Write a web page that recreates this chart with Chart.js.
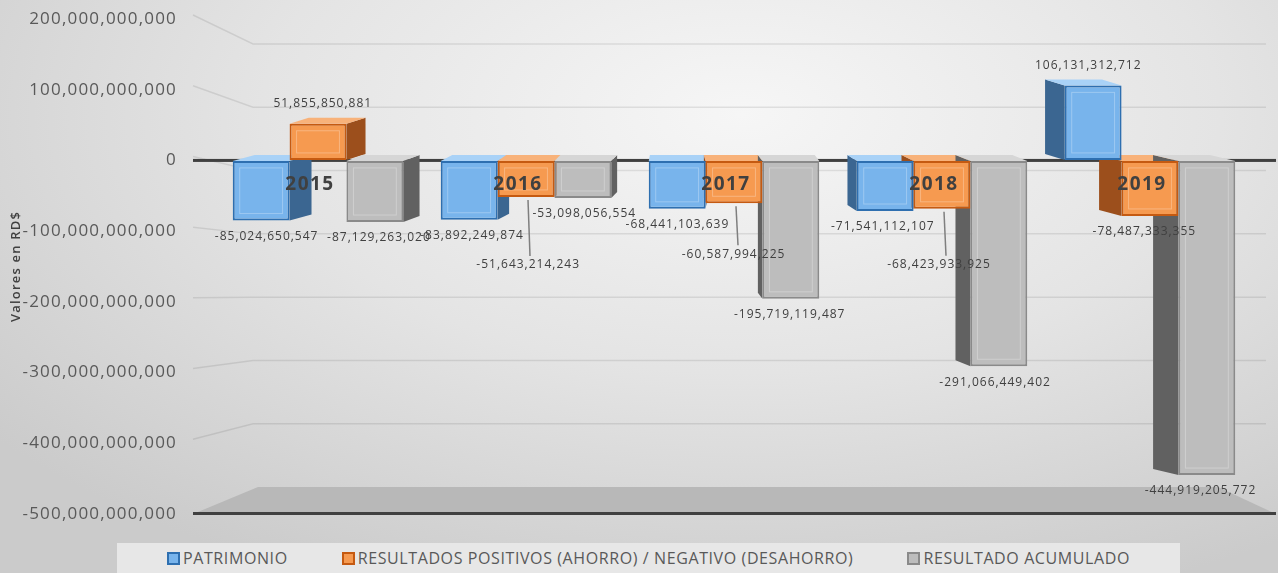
<!DOCTYPE html>
<html lang="es">
<head>
<meta charset="utf-8">
<title>Patrimonio y resultados</title>
<script src="https://cdn.jsdelivr.net/npm/chart.js@4.4.1/dist/chart.umd.min.js"></script>
<style>
  html, body { margin: 0; padding: 0; }
  body {
    width: 1278px; height: 573px; overflow: hidden; position: relative;
    background: radial-gradient(ellipse 75% 90% at 58% 20%, #f6f6f6 0%, #e4e4e4 50%, #cbcbcb 100%);
    font-family: 'Open Sans', sans-serif;
  }
  #wrap { position: absolute; left: 0; top: 0; width: 1278px; height: 573px; }
  #chart { display: block; }
  #legend {
    position: absolute; left: 117px; top: 543px; width: 1063px; height: 30px;
    box-sizing: border-box; padding-left: 50px;
    background: #e7e7e7; display: flex; align-items: center; gap: 54px;
    color: #595959; font-size: 16px; letter-spacing: 0.6px;
  }
  .item { display: flex; align-items: center; white-space: nowrap; }
  .box { width: 9px; height: 9px; border: 2px solid; margin-right: 3px; }
</style>
</head>
<body>
<div id="wrap"><canvas id="chart" width="1278" height="573"></canvas></div>
<div id="legend"></div>
<script>
// Data
const years = ['2015', '2016', '2017', '2018', '2019'];
const patrimonio = [-85024650547, -83892249874, -68441103639, -71541112107, 106131312712];
const resultados = [51855850881, -51643214243, -60587994225, -68423933925, -78487333355];
const acumulado = [-87129263020, -53098056554, -195719119487, -291066449402, -444919205772];
const seriesNames = ['PATRIMONIO', 'RESULTADOS POSITIVOS (AHORRO) / NEGATIVO (DESAHORRO)', 'RESULTADO ACUMULADO'];
const yTicks = [200e9, 100e9, 0, -100e9, -200e9, -300e9, -400e9, -500e9];

const fmt = v => Math.round(v).toLocaleString('en-US');

// 3D look: side faces lean towards a vanishing point near the middle
const vanishX = 700;
const rise = 6;
const depthFor = cx => (vanishX - cx) * 0.05;
// back wall sits a little smaller than the front plane
const backY = py => 27 + py * 0.895;
// extra drop for labels hung on a leader line (dataset index -> per bar)
const leaders = { 1: [0, 52, 35, 40, 0] };

const bar3d = {
    id: 'bar3d',
    beforeDraw(chart) {
        // the reference text is set wide; space out the axis text
        chart.ctx.letterSpacing = '1.2px';
    },
    beforeDatasetsDraw(chart) {
        const { ctx, chartArea: a, scales: { y } } = chart;
        ctx.letterSpacing = '0px';
        const zero = y.getPixelForValue(0);
        const base = y.getPixelForValue(-500e9);
        const left = a.left - 21, right = a.right + 22;

        ctx.save();
        // gridlines on the back wall, with the short slanted run from the axis
        ctx.strokeStyle = 'rgba(0,0,0,0.09)';
        ctx.lineWidth = 1.5;
        y.ticks.forEach(t => {
            if (t.value === -500e9) return;
            const py = y.getPixelForValue(t.value);
            ctx.beginPath();
            ctx.moveTo(left, py - 4);
            ctx.lineTo(left + 60, backY(py));
            ctx.lineTo(a.right + 12, backY(py));
            ctx.stroke();
        });

        // floor
        ctx.fillStyle = '#b8b8b8';
        ctx.beginPath();
        ctx.moveTo(left, base);
        ctx.lineTo(left + 65, backY(base));
        ctx.lineTo(right - 58, backY(base));
        ctx.lineTo(right, base);
        ctx.closePath();
        ctx.fill();

        // zero line
        ctx.fillStyle = '#404040';
        ctx.fillRect(left, zero - 1.5, right - left, 3);

        // side and top faces
        chart.data.datasets.forEach((ds, di) => {
            chart.getDatasetMeta(di).data.forEach(bar => {
                const L = bar.x - bar.width / 2, R = bar.x + bar.width / 2;
                const top = Math.min(bar.y, bar.base), bottom = Math.max(bar.y, bar.base);
                const d = depthFor(bar.x);
                const edge = d > 0 ? R : L;
                ctx.fillStyle = ds.sideColor;
                ctx.beginPath();
                ctx.moveTo(edge, top);
                ctx.lineTo(edge + d, top - rise);
                ctx.lineTo(edge + d, bottom - rise);
                ctx.lineTo(edge, bottom);
                ctx.closePath();
                ctx.fill();
                ctx.fillStyle = ds.topColor;
                ctx.beginPath();
                ctx.moveTo(L, top);
                ctx.lineTo(R, top);
                ctx.lineTo(R + d, top - rise);
                ctx.lineTo(L + d, top - rise);
                ctx.closePath();
                ctx.fill();
            });
        });
        ctx.restore();
    },
    afterDatasetsDraw(chart) {
        const { ctx, scales: { x, y } } = chart;
        const zero = y.getPixelForValue(0);
        ctx.save();

        // inner bevel outline on the front faces
        chart.data.datasets.forEach((ds, di) => {
            chart.getDatasetMeta(di).data.forEach(bar => {
                const top = Math.min(bar.y, bar.base), bottom = Math.max(bar.y, bar.base);
                const inset = 7;
                if (bottom - top > inset * 2) {
                    ctx.strokeStyle = 'rgba(255,255,255,0.28)';
                    ctx.lineWidth = 1;
                    ctx.strokeRect(bar.x - bar.width / 2 + inset, top + inset,
                        bar.width - inset * 2, bottom - top - inset * 2);
                }
            });
        });

        // year labels on the zero plane
        ctx.fillStyle = '#404040';
        ctx.font = 'bold 19px "Open Sans"';
        ctx.letterSpacing = '1.5px';
        ctx.textAlign = 'center';
        ctx.textBaseline = 'middle';
        years.forEach((yr, i) => ctx.fillText(yr, x.getPixelForValue(i) - 8, zero + 24));

        // value labels
        ctx.font = '12px "Open Sans"';
        ctx.letterSpacing = '1px';
        chart.data.datasets.forEach((ds, di) => {
            chart.getDatasetMeta(di).data.forEach((bar, i) => {
                const v = ds.data[i];
                const lx = bar.x + depthFor(bar.x) * 0.25;
                let ly;
                if (v >= 0) {
                    ly = bar.y - rise - 14;
                } else {
                    const extra = (leaders[di] || [])[i] || 0;
                    ly = bar.y + 16 + extra;
                    if (extra) {
                        ctx.strokeStyle = '#7f7f7f';
                        ctx.lineWidth = 1.5;
                        ctx.beginPath();
                        ctx.moveTo(bar.x + 2, bar.y + 3);
                        ctx.lineTo(bar.x + 4, ly - 9);
                        ctx.stroke();
                    }
                }
                ctx.fillStyle = '#404040';
                ctx.fillText(fmt(v), lx, ly);
            });
        });
        ctx.letterSpacing = '0px';
        ctx.restore();
    },
    afterDraw(chart) {
        // base line at the front edge of the floor
        const { ctx, chartArea: a, scales: { y } } = chart;
        const base = y.getPixelForValue(-500e9);
        ctx.save();
        ctx.fillStyle = '#404040';
        ctx.fillRect(a.left - 21, base - 2, a.width + 43, 3);
        ctx.restore();
    }
};

const chart = new Chart(document.getElementById('chart'), {
    type: 'bar',
    data: {
        labels: years,
        datasets: [
            {
                label: seriesNames[0], data: patrimonio,
                backgroundColor: '#78b4ec', borderColor: '#2e6fb0', borderWidth: 2,
                sideColor: '#3b6691', topColor: '#a9d2f7'
            },
            {
                label: seriesNames[1], data: resultados,
                backgroundColor: '#f69a50', borderColor: '#c55a11', borderWidth: 2,
                sideColor: '#9c4f1c', topColor: '#f8b27a'
            },
            {
                label: seriesNames[2], data: acumulado,
                backgroundColor: '#bdbdbd', borderColor: '#8a8a8a', borderWidth: 2,
                sideColor: '#616161', topColor: '#d6d6d6'
            }
        ]
    },
    options: {
        responsive: false,
        animation: false,
        layout: { padding: { left: 0, right: 24, top: 19, bottom: 59 } },
        datasets: {
            bar: { categoryPercentage: 0.82, barPercentage: 1.0, borderSkipped: false }
        },
        plugins: {
            legend: { display: false },
            tooltip: { enabled: false }
        },
        scales: {
            x: { display: false },
            y: {
                min: -500e9,
                max: 200e9,
                afterBuildTicks: s => { s.ticks = yTicks.map(v => ({ value: v })); },
                afterFit: s => { s.width = 214; },
                border: { display: false },
                grid: {
                    drawOnChartArea: false,
                    drawTicks: true,
                    tickLength: 34,
                    tickColor: 'rgba(0,0,0,0)'
                },
                ticks: {
                    padding: 3,
                    color: '#595959',
                    font: { family: 'Open Sans', size: 17 },
                    callback: v => fmt(v)
                },
                title: {
                    display: true,
                    text: 'Valores en RD$',
                    color: '#404040',
                    padding: { top: 8, bottom: 0 },
                    font: { family: 'Open Sans', size: 13, weight: '600' }
                }
            }
        }
    },
    plugins: [bar3d]
});

// HTML legend built from the datasets
const legendEl = document.getElementById('legend');
chart.data.datasets.forEach(ds => {
    const item = document.createElement('div');
    item.className = 'item';
    const box = document.createElement('span');
    box.className = 'box';
    box.style.background = ds.backgroundColor;
    box.style.borderColor = ds.borderColor;
    const txt = document.createElement('span');
    txt.textContent = ds.label;
    item.appendChild(box);
    item.appendChild(txt);
    legendEl.appendChild(item);
});
</script>
</body>
</html>
